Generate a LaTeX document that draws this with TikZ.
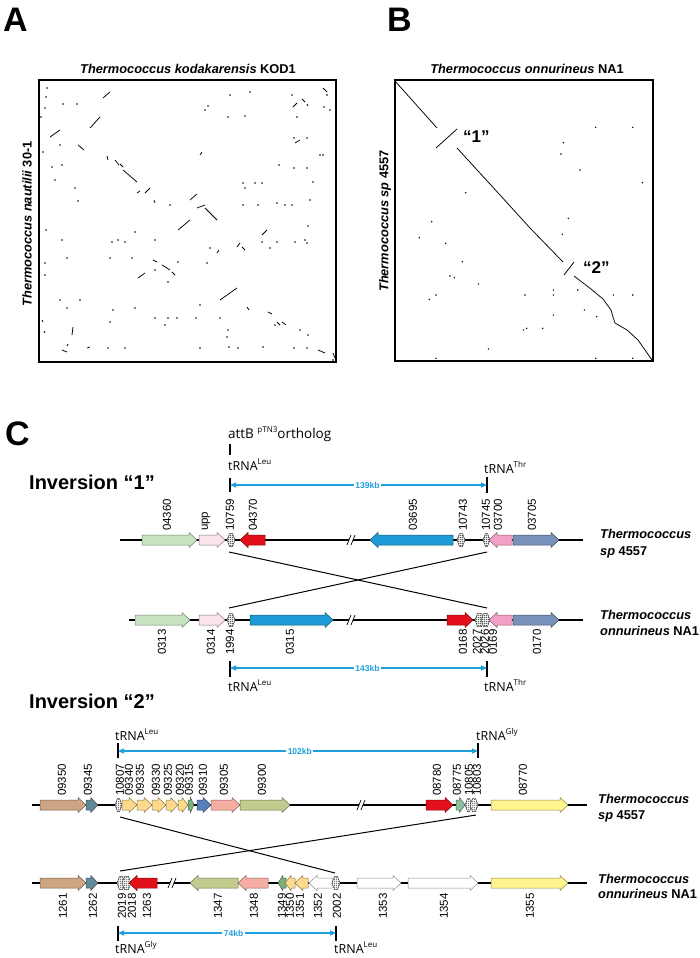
\documentclass[tikz,border=0pt]{standalone}
\usepackage{fontspec}
\setmainfont{Liberation Sans}
\newfontfamily\osans{Open Sans}
\usetikzlibrary{arrows.meta,patterns}
\definecolor{lgreen}{HTML}{C8E3C0}
\definecolor{lpink}{HTML}{FCE4EC}
\definecolor{gred}{HTML}{E3101B}
\definecolor{gblue}{HTML}{1E9AD6}
\definecolor{gpink}{HTML}{F2A1C4}
\definecolor{gsteel}{HTML}{7891BA}
\definecolor{gtan}{HTML}{CDA582}
\definecolor{gslate}{HTML}{5F8A9A}
\definecolor{lyel}{HTML}{FDD98C}
\definecolor{sgreen}{HTML}{7AB07A}
\definecolor{mblue}{HTML}{5A80BC}
\definecolor{salmon}{HTML}{F6ADA4}
\definecolor{olive}{HTML}{C3CB8E}
\definecolor{ggreen}{HTML}{8BBFA0}
\definecolor{gyellow}{HTML}{FFF48E}
\definecolor{gwhite}{HTML}{FFFFFF}
\definecolor{kbblue}{HTML}{1EA0DC}
\pgfdeclarepatternformonly{finegrid}{\pgfpointorigin}{\pgfpoint{2pt}{2pt}}{\pgfpoint{2pt}{2pt}}{%
  \pgfsetlinewidth{0.6pt}%
  \pgfpathmoveto{\pgfpoint{0pt}{1pt}}\pgfpathlineto{\pgfpoint{2pt}{1pt}}%
  \pgfpathmoveto{\pgfpoint{1pt}{0pt}}\pgfpathlineto{\pgfpoint{1pt}{2pt}}%
  \pgfusepath{stroke}}
\newcommand\garrow[4]{%
  \pgfmathsetmacro\gdir{sign(#2-#1)}%
  \pgfmathsetmacro\glen{abs(#2-#1)}%
  \pgfmathsetmacro\ghl{min(8,0.6*\glen)}%
  \pgfmathsetmacro\gneck{#2-\gdir*\ghl}%
  \draw[line width=0.5pt, draw=#4!55!black, fill=#4] (#1,#3-5) -- (\gneck,#3-5) -- (\gneck,#3-7.5) -- (#2,#3) -- (\gneck,#3+7.5) -- (\gneck,#3+5) -- (#1,#3+5) -- cycle;}
\newcommand\trna[3]{%
  \draw[line width=0.5pt, draw=black!75, preaction={fill=white}, pattern=finegrid, pattern color=black!80] (#1,#3) -- (#1+2.5,#3-6.5) -- (#2-2.5,#3-6.5) -- (#2,#3) -- (#2-2.5,#3+6.5) -- (#1+2.5,#3+6.5) -- cycle;}
\newcommand\brk[2]{%
  \fill[white] (#1-5,#2+5) -- (#1-1,#2-5) -- (#1+3,#2-5) -- (#1-1,#2+5) -- cycle;
  \draw[line width=0.7pt] (#1-5,#2+5) -- (#1-1,#2-5) (#1-1,#2+5) -- (#1+3,#2-5);}
\newcommand\lup[3]{\node[glab, anchor=west] (l#3) at (#1,#2) {#3};}
\newcommand\ldn[3]{\node[glab, anchor=east] (l#3) at (#1,#2) {#3};}
\newcommand\sups[1]{\raisebox{5.5pt}{\fontsize{8}{8}\selectfont #1}}
\begin{document}
\begin{tikzpicture}[x=1pt,y=-1pt,
  glab/.style={rotate=90, inner sep=0pt, font=\fontsize{11.5}{11.5}\selectfont},
  chrom/.style={line width=2.8pt},
  tickl/.style={line width=1.5pt},
  barrow/.style={line width=1.2pt, kbblue, {Triangle[length=6pt,width=5pt]}-{Triangle[length=6pt,width=5pt]}},
  kbl/.style={fill=white, inner sep=1.5pt, text=kbblue, font=\fontsize{8.5}{8.5}\selectfont\bfseries},
  trl/.style={anchor=base west, inner sep=0pt, font=\osans\fontsize{12.5}{12.5}\selectfont},
  spl/.style={anchor=base west, inner sep=0pt, font=\fontsize{12.8}{12.8}\selectfont\bfseries},
  cross/.style={line width=1pt},
  dotp/.style={line width=0.75pt},
  ttl/.style={inner sep=0pt, font=\fontsize{12.8}{12.8}\selectfont\bfseries},
  big/.style={anchor=base west, inner sep=0pt, font=\fontsize{34}{34}\selectfont\bfseries},
  inv/.style={anchor=base west, inner sep=0pt, font=\fontsize{20}{20}\selectfont\bfseries}]
\useasboundingbox (0,0) rectangle (699,958);

% ---------------- Panel A ----------------
\node[big] (A) at (3,32) {A};
\node[ttl, anchor=base] (tA) at (188,74) {\itshape Thermococcus kodakarensis \upshape KOD1};
\node[ttl, rotate=90] (yA) at (27,224) {\itshape Thermococcus nautilii \upshape 30-1};
\draw[line width=1.2pt] (39,80) rectangle (336,362);
\foreach \a/\b/\c/\d in {50/137/60/130, 90/128/100/117, 78/145/84/150, 103/98/110/92, 107/156/108/160, 115/160/119/165, 120/164/123/167, 123/170/137/182, 137/193/140/191, 145/193/150/188, 154/200/155/203, 178/230/190/220, 190/200/197/194, 197/208/205/205, 205/208/217/220, 200/155/202/152, 217/253/219/250, 237/247/240/243, 242/247/245/250, 262/235/267/230, 220/300/237/288, 247/307/249/310, 268/312/272/314, 282/322/286/325, 293/107/297/103, 302/99/305/102, 307/104/308/106, 295/143/300/140, 323/88/327/92, 138/278/145/273, 153/260/157/262, 162/265/170/270, 172/272/175/275, 62/350/67/352, 72/335/73/327, 42/320/43/322, 87/348/90/347, 318/350/325/353, 333/353/335/358, 277/322/280/325, 44/331/45/333, 67/346/68/344}
  \draw[dotp] (\a,\b) -- (\c,\d);
\foreach \p/\q in {47/88, 63/104, 77/104, 60/145, 43/152, 52/167, 62/165, 75/188, 46/230, 78/201, 45/263, 67/258, 62/240, 80/300, 112/242, 110/258, 118/240, 125/242, 132/258, 135/232, 155/240, 155/270, 165/325, 168/282, 168/318, 177/318, 196/318, 178/262, 200/348, 207/263, 210/248, 205/110, 208/106, 228/117, 245/116, 243/183, 245/188, 255/183, 262/183, 258/205, 243/205, 262/242, 270/248, 277/242, 277/203, 279/165, 285/205, 292/205, 294/168, 307/168, 294/138, 307/138, 307/243, 305/240, 308/226, 295/242, 227/337, 229/347, 238/348, 263/347, 275/325, 294/348, 307/348, 308/335, 228/330, 230/95, 250/92, 292/95, 297/117, 324/107, 313/182, 323/155, 327/95, 330/110, 46/97, 45/108, 41/117, 55/180, 60/300, 67/308, 110/322, 108/348, 125/348, 113/310, 135/308, 155/318, 45/275, 150/362, 228/362, 333/360, 320/155, 200/305, 220/318, 300/330, 170/205, 310/200}
  \fill (\p,\q) circle (0.8);

% ---------------- Panel B ----------------
\node[big] (B) at (387,32) {B};
\node[ttl, anchor=base] (tB) at (527,74) {\itshape Thermococcus onnurineus \upshape NA1};
\node[ttl, rotate=90] (yB) at (385,221) {\itshape Thermococcus sp \upshape 4557};
\draw[line width=1.2pt] (395,80) rectangle (653,361);
\draw[dotp] (395,81) -- (437,128);
\draw[dotp] (436,148) -- (457,129);
\draw[dotp] (457,148) -- (500,195) -- (530,228) -- (563,262);
\draw[dotp] (564,275) -- (574,262);
\draw[dotp] (574,276) -- (591,289) -- (603,299) -- (611,310) -- (613,317) -- (615,323) -- (627,330) -- (638,340) -- (652,360);
\foreach \p/\q in {595.7/127.3, 632.7/127.3, 563.3/142.7, 561/154, 580/170, 642.3/182.7, 465.7/192.7, 431.7/221.7, 568.3/218.3, 419.3/237.7, 445.7/243.3, 562.3/234.3, 462.3/261.7, 450/276, 454.3/277.7, 478.3/284, 436/295, 429.3/299.3, 525/295, 553.3/290, 553.3/295, 577.7/290, 613.3/295, 632.7/295, 584.3/310, 596.7/316.7, 553.3/315, 523.3/330, 526.7/328.3, 542.7/328.3, 488.3/349, 436/358.3, 595.7/358.3, 632.7/358.3}
  \fill (\p,\q) circle (0.8);
\node[anchor=west, inner sep=0pt, font=\fontsize{17}{17}\selectfont\bfseries] (q1) at (463,137) {“1”};
\node[anchor=west, inner sep=0pt, font=\fontsize{17}{17}\selectfont\bfseries] (q2) at (583,268) {“2”};

% ---------------- Panel C ----------------
\node[big] (C) at (5,445) {C};
\node[inv] (inv1) at (29,489) {Inversion “1”};
\node[inv] (inv2) at (29,708) {Inversion “2”};

% ===== Inversion 1 =====
\node[trl, font=\osans\fontsize{13.5}{13.5}\selectfont] (attb) at (228,438) {attB \sups{pTN3}ortholog};
\draw[tickl] (230,444) -- (230,455);
\node[trl] (tl1) at (228,470) {tRNA\sups{Leu}};
\draw[tickl] (230,478) -- (230,492);
\node[trl] (tt1) at (484,473) {tRNA\sups{Thr}};
\draw[tickl] (487,477) -- (487,493);
\coordinate (a1L) at (230,485);
\coordinate (a1R) at (487,485);
\draw[barrow] (a1L) -- (a1R) node[kbl, pos=0.535] (kb139) {139kb};

\draw[chrom] (120,540) -- (583,540);
\garrow{142}{197}{540}{lgreen}
\garrow{199}{225}{540}{lpink}
\trna{227}{235}{540}
\garrow{265}{240}{540}{gred}
\brk{352}{540}
\garrow{453}{370}{540}{gblue}
\trna{457}{465}{540}
\trna{483}{490}{540}
\garrow{512}{489}{540}{gpink}
\garrow{513}{559}{540}{gsteel}
\lup{167}{531}{04360}
\lup{206}{531}{upp}
\lup{230}{531}{10759}
\lup{253}{531}{04370}
\lup{413}{531}{03695}
\lup{463}{531}{10743}
\lup{486}{531}{10745}
\lup{498}{531}{03700}
\lup{532}{531}{03705}

\draw[chrom] (129,620) -- (583,620);
\garrow{135}{190}{620}{lgreen}
\garrow{199}{225}{620}{lpink}
\trna{227}{235}{620}
\garrow{250}{333}{620}{gblue}
\brk{352}{620}
\garrow{447}{473}{620}{gred}
\trna{475}{484}{620}
\trna{481}{490}{620}
\garrow{512}{489}{620}{gpink}
\garrow{513}{559}{620}{gsteel}
\ldn{162}{629}{0313}
\ldn{211}{629}{0314}
\ldn{230}{629}{1994}
\ldn{290}{629}{0315}
\ldn{463}{629}{0168}
\ldn{477}{629}{2027}
\ldn{485}{629}{2026}
\ldn{493}{629}{0169}
\ldn{537}{629}{0170}

\coordinate (x1a) at (229,552);
\coordinate (x1b) at (487,608);
\coordinate (x1c) at (487,552);
\coordinate (x1d) at (229,608);
\draw[cross] (x1a) -- (x1b);
\draw[cross] (x1c) -- (x1d);

\coordinate (b1L) at (230,668);
\coordinate (b1R) at (487,668);
\draw[tickl] (230,661) -- (230,677);
\draw[tickl] (487,661) -- (487,677);
\draw[barrow] (b1L) -- (b1R) node[kbl, pos=0.535] (kb143) {143kb};
\node[trl] (tl1b) at (228,691) {tRNA\sups{Leu}};
\node[trl] (tt1b) at (484,691) {tRNA\sups{Thr}};

\node[spl] (s1a) at (600,538) {\itshape Thermococcus};
\node[spl] (s1b) at (600,555) {\itshape sp \upshape 4557};
\node[spl] (s1c) at (600,619) {\itshape Thermococcus};
\node[spl] (s1d) at (600,635) {\itshape onnurineus \upshape NA1};

% ===== Inversion 2 =====
\node[trl] (tl2) at (115,740) {tRNA\sups{Leu}};
\node[trl] (tg2) at (476,740) {tRNA\sups{Gly}};
\draw[tickl] (118,743) -- (118,758);
\draw[tickl] (478,743) -- (478,758);
\coordinate (a2L) at (118,751);
\coordinate (a2R) at (478,751);
\draw[barrow] (a2L) -- (a2R) node[kbl, pos=0.505] (kb102) {102kb};

\draw[chrom] (32,805) -- (587,805);
\garrow{40}{86}{805}{gtan}
\garrow{86}{98}{805}{gslate}
\trna{115}{122}{805}
\garrow{122}{137}{805}{lyel}
\garrow{137}{152}{805}{lyel}
\garrow{152}{166}{805}{lyel}
\garrow{166}{178}{805}{lyel}
\garrow{178}{188}{805}{lyel}
\garrow{188}{194}{805}{sgreen}
\garrow{197}{211}{805}{mblue}
\garrow{211}{240}{805}{salmon}
\garrow{240}{290}{805}{olive}
\brk{362}{805}
\garrow{426}{453}{805}{gred}
\garrow{456}{465}{805}{ggreen}
\trna{465}{472}{805}
\trna{470}{478}{805}
\garrow{491}{568}{805}{gyellow}
\lup{62}{796}{09350}
\lup{88}{796}{09345}
\lup{120}{796}{10807}
\lup{129}{796}{09340}
\lup{140}{796}{09335}
\lup{156}{796}{09330}
\lup{168}{796}{09325}
\lup{180}{796}{09320}
\lup{189}{796}{09315}
\lup{203}{796}{09310}
\lup{224}{796}{09305}
\lup{262}{796}{09300}
\lup{437}{796}{08780}
\lup{457}{796}{08775}
\lup{469}{796}{10805}
\lup{477}{796}{10803}
\lup{523}{796}{08770}

\draw[chrom] (32,883) -- (587,883);
\garrow{40}{86}{883}{gtan}
\garrow{86}{98}{883}{gslate}
\trna{117}{125}{883}
\trna{122}{131}{883}
\garrow{157}{129}{883}{gred}
\brk{173}{883}
\garrow{238}{190}{883}{olive}
\garrow{268}{238}{883}{salmon}
\garrow{286}{278}{883}{sgreen}
\garrow{295}{285}{883}{lyel}
\garrow{308}{295}{883}{lyel}
\garrow{332}{309}{883}{gwhite}
\trna{332}{340}{883}
\garrow{357}{401}{883}{gwhite}
\garrow{408}{478}{883}{gwhite}
\garrow{491}{568}{883}{gyellow}
\ldn{63}{893}{1261}
\ldn{93}{893}{1262}
\ldn{122}{893}{2019}
\ldn{132}{893}{2018}
\ldn{147}{893}{1263}
\ldn{218}{893}{1347}
\ldn{254}{893}{1348}
\ldn{282}{893}{1349}
\ldn{290}{893}{1350}
\ldn{300}{893}{1351}
\ldn{318}{893}{1352}
\ldn{337}{893}{2002}
\ldn{383}{893}{1353}
\ldn{444}{893}{1354}
\ldn{530}{893}{1355}

\coordinate (x2a) at (120,817);
\coordinate (x2b) at (335,873);
\coordinate (x2c) at (476,815);
\coordinate (x2d) at (120,871);
\draw[cross] (x2a) -- (x2b);
\draw[cross] (x2c) -- (x2d);

\coordinate (b2L) at (118,933);
\coordinate (b2R) at (336,933);
\draw[tickl] (118,926) -- (118,941);
\draw[tickl] (336,926) -- (336,941);
\draw[barrow] (b2L) -- (b2R) node[kbl, pos=0.53] (kb74) {74kb};
\node[trl] (tg2b) at (115,953) {tRNA\sups{Gly}};
\node[trl] (tl2b) at (334,953) {tRNA\sups{Leu}};

\node[spl] (s2a) at (598,803) {\itshape Thermococcus};
\node[spl] (s2b) at (598,819) {\itshape sp \upshape 4557};
\node[spl] (s2c) at (598,883) {\itshape Thermococcus};
\node[spl] (s2d) at (598,898) {\itshape onnurineus \upshape NA1};
\end{tikzpicture}
\end{document}
